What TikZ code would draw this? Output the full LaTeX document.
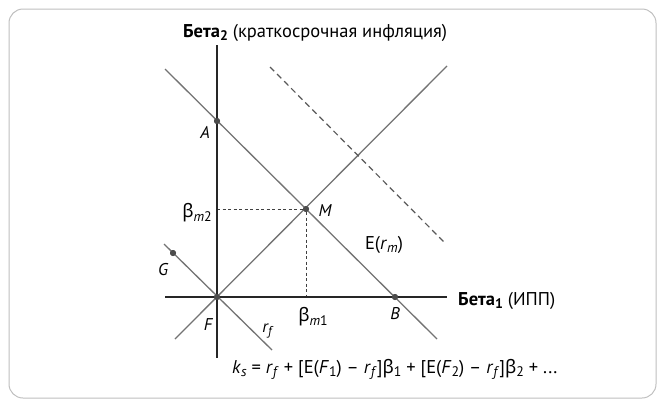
\documentclass[tikz,border=0pt]{standalone}
\usepackage{fontspec}
\setmainfont{PT Sans}
\newfontfamily\grkfont{Noto Sans}
\usetikzlibrary{positioning}

\newcommand{\lowidx}[1]{\raisebox{-0.35ex}{\scalebox{0.75}{#1}}}
\newcommand{\bt}{{\grkfont β}}

\begin{document}
\begin{tikzpicture}[
        x=1pt, y=-1pt,
        axis_line/.style={line width=2.4pt, black!85},
        thin_line/.style={line width=1.3pt, black!55},
        help_line/.style={line width=1pt, black!75, dash pattern=on 3pt off 2.5pt},
        far_line/.style={line width=1.2pt, black!65, dash pattern=on 6pt off 4pt},
        dot_node/.style={circle, fill=black!70, inner sep=0pt, minimum size=6pt},
        pt_label/.style={font=\fontsize{17}{17}\selectfont\itshape, inner sep=0pt},
        txt_label/.style={font=\fontsize{18.5}{18.5}\selectfont, inner sep=0pt}
    ]
        \useasboundingbox (0,0) rectangle (660,402);
        \draw[rounded corners=14pt, black!25, line width=1pt] (9,9) rectangle (656,398);

        % Точки
        \node[dot_node] (F) at (217,297) {};
        \node[dot_node] (A) at (217,121) {};
        \node[dot_node] (B) at (395,297) {};
        \node[dot_node] (M) at (306,209) {};
        \node[dot_node] (G) at (173,253) {};

        % Концы линий
        \coordinate (yTop) at (217,45);
        \coordinate (yBot) at (217,358);
        \coordinate (xLeft) at (165,297);
        \coordinate (xRight) at (447,297);
        \coordinate (mlTop) at (447,66);
        \coordinate (mlBot) at (175,339);
        \coordinate (abTop) at (165,69);
        \coordinate (abBot) at (437,339);
        \coordinate (rfTop) at (164,244);
        \coordinate (rfBot) at (272,350);
        \coordinate (dsTop) at (270,67);
        \coordinate (dsBot) at (446,244);
        \coordinate (Mx) at (217,209);
        \coordinate (My) at (306,297);

        % Линии
        \draw[thin_line] (mlBot) -- (mlTop);
        \draw[thin_line] (abTop) -- (abBot);
        \draw[thin_line] (rfTop) -- (rfBot);
        \draw[far_line] (dsTop) -- (dsBot);
        \draw[help_line] (Mx) -- (M);
        \draw[help_line] (M) -- (My);

        % Оси
        \draw[axis_line] (yTop) -- (yBot);
        \draw[axis_line] (xLeft) -- (xRight);
        \foreach \p in {F,A,B,M,G} \node[dot_node] at (\p) {};

        % Подписи
        \node[txt_label, anchor=base west] (yLabel) at (183,37) {\textbf{Бета\lowidx{2}} (краткосрочная инфляция)};
        \node[txt_label, anchor=base west] (xLabel) at (458,305) {\textbf{Бета\lowidx{1}} (ИПП)};
        \node[pt_label] (aLabel) at (205,132) {A};
        \node[pt_label] (bLabel) at (395,314) {B};
        \node[pt_label] (mLabel) at (325,211) {M};
        \node[pt_label] (gLabel) at (163,270) {G};
        \node[pt_label] (fLabel) at (208,325) {F};
        \node[pt_label] (rLabel) at (267,331) {r\lowidx{f}};
        \node[txt_label] (bm2Label) at (197,213) {\bt\lowidx{\textit{m}2}};
        \node[txt_label] (bm1Label) at (313,317) {\bt\lowidx{\textit{m}1}};
        \node[txt_label] (eLabel) at (384,245) {E(\textit{r}\lowidx{\textit{m}})};
        \node[txt_label, anchor=base west] (formula) at (232,373)
            {\textit{k}\lowidx{\textit{s}} = \textit{r}\lowidx{\textit{f}} + [E(\textit{F}\lowidx{1}) – \textit{r}\lowidx{\textit{f}}]\bt\lowidx{1} + [E(\textit{F}\lowidx{2}) – \textit{r}\lowidx{\textit{f}}]\bt\lowidx{2} + ...};
    \end{tikzpicture}
\end{document}
